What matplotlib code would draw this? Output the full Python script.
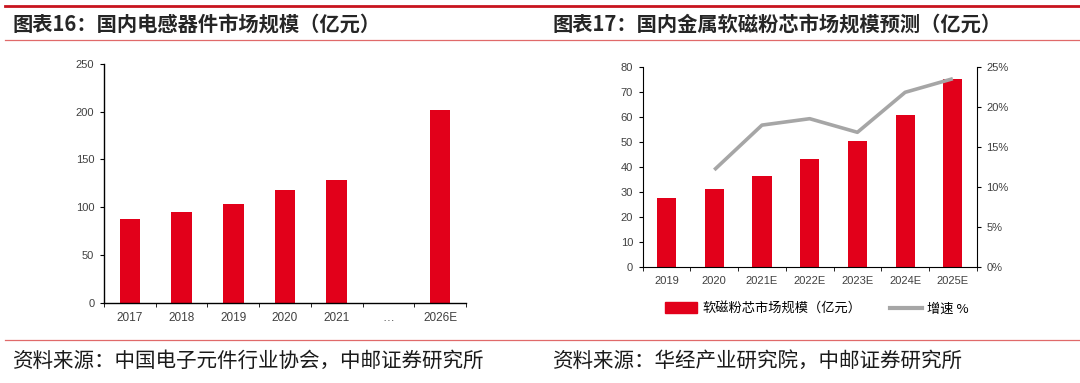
import matplotlib
matplotlib.use("Agg")
import matplotlib.pyplot as plt
from matplotlib.lines import Line2D
from matplotlib.patches import Patch
import numpy as np

plt.rcParams['font.family'] = ['Liberation Sans', 'Noto Sans CJK SC', 'DejaVu Sans']

# Left chart data
left_categories = ['2017', '2018', '2019', '2020', '2021', '…', '2026E']
left_values = [88, 95, 103, 118, 129, None, 202]

# Right chart data
right_categories = ['2019', '2020', '2021E', '2022E', '2023E', '2024E', '2025E']
right_values = [27.3, 31, 36.1, 43, 50.1, 60.8, 75]
growth_pct = [None, 12.1, 17.7, 18.5, 16.8, 21.8, 23.5]

left_title = '图表16：国内电感器件市场规模（亿元）'
right_title = '图表17：国内金属软磁粉芯市场规模预测（亿元）'
left_source = '资料来源：中国电子元件行业协会，中邮证券研究所'
right_source = '资料来源：华经产业研究院，中邮证券研究所'
bar_label = '软磁粉芯市场规模（亿元）'
line_label = '增速 %'

W, H = 1080, 383
BAR = '#E2001A'
LINE = '#A6A6A6'
TICK = '#404040'
CJK = ['Noto Sans CJK SC', 'DejaVu Sans']

fig = plt.figure(figsize=(W / 100, H / 100), dpi=100)

def fx(px):
    return px / W

def fy(py):
    return 1 - py / H

# Decorative rules
fig.add_artist(Line2D([fx(5), 1], [fy(6), fy(6)], color='#C8141E', lw=2.0))
fig.add_artist(Line2D([fx(5), 1], [fy(39.5), fy(39.5)], color='#E06A6A', lw=0.9))
fig.add_artist(Line2D([fx(5), 1], [fy(340), fy(340)], color='#E06A6A', lw=0.9))

# Titles
fig.text(fx(13), fy(24), left_title, family=CJK, fontsize=14.6, fontweight='bold',
         color='#262626', va='center', ha='left')
fig.text(fx(553), fy(24), right_title, family=CJK, fontsize=14.6, fontweight='bold',
         color='#262626', va='center', ha='left')
# Sources
fig.text(fx(13), fy(361), left_source, family=CJK, fontsize=14.8, fontweight='light',
         color='#1a1a1a', va='center', ha='left')
fig.text(fx(553), fy(361), right_source, family=CJK, fontsize=14.8, fontweight='light',
         color='#1a1a1a', va='center', ha='left')

# ---------- Left chart ----------
axL = fig.add_axes([fx(104), fy(302.7), fx(466 - 104), (302.7 - 64) / H])
xl = np.arange(len(left_categories))
lv = [v if v is not None else 0 for v in left_values]
bars = axL.bar(xl, lv, width=0.4, color=BAR)
for b, v in zip(bars, left_values):
    if v is None:
        b.set_visible(False)
axL.set_xlim(-0.5, len(left_categories) - 0.5)
axL.set_ylim(0, 250)
axL.set_yticks([0, 50, 100, 150, 200, 250])
axL.set_xticks(xl)
axL.set_xticklabels(left_categories)
axL.set_xticks(np.arange(-0.5, len(left_categories), 1), minor=True)
axL.tick_params(axis='x', which='major', length=0, labelsize=8.5, colors=TICK, pad=7)
axL.tick_params(axis='x', which='minor', length=3, direction='out', color='black')
axL.tick_params(axis='y', length=3, labelsize=8, colors=TICK, pad=4)
axL.tick_params(axis='y', color='black')
for s in ['top', 'right']:
    axL.spines[s].set_visible(False)
for s in ['left', 'bottom']:
    axL.spines[s].set_color('black')
    axL.spines[s].set_linewidth(1.0)

# ---------- Right chart ----------
axR = fig.add_axes([fx(642.7), fy(266.7), fx(976.7 - 642.7), (266.7 - 66.7) / H])
xr = np.arange(len(right_categories))
axR.bar(xr, right_values, width=0.4, color=BAR, label=bar_label)
axR.set_xlim(-0.5, len(right_categories) - 0.5)
axR.set_ylim(0, 80)
axR.set_yticks(np.arange(0, 81, 10))
axR.set_xticks(xr)
axR.set_xticklabels(right_categories)
axR.set_xticks(np.arange(-0.5, len(right_categories), 1), minor=True)
axR.tick_params(axis='x', which='major', length=0, labelsize=8, colors=TICK, pad=7)
axR.tick_params(axis='x', which='minor', length=3, direction='out', color='black')
axR.tick_params(axis='y', length=3, labelsize=8, colors=TICK, pad=4)
axR.tick_params(axis='y', color='black')
for s in ['top', 'right']:
    axR.spines[s].set_visible(False)
for s in ['left', 'bottom']:
    axR.spines[s].set_color('black')

ax2 = axR.twinx()
gx = [x for x, g in zip(xr, growth_pct) if g is not None]
gy = [g / 100 for g in growth_pct if g is not None]
ax2.plot(gx, gy, color=LINE, lw=2.6, solid_capstyle='butt', label=line_label)
ax2.set_ylim(0, 0.25)
ax2.set_yticks([0, 0.05, 0.10, 0.15, 0.20, 0.25])
ax2.set_yticklabels(['0%', '5%', '10%', '15%', '20%', '25%'])
ax2.tick_params(axis='y', length=3, labelsize=8, colors=TICK, pad=4)
ax2.tick_params(axis='y', color='black')
for s in ['top', 'left', 'bottom']:
    ax2.spines[s].set_visible(False)
ax2.spines['right'].set_color('black')

handles = [Patch(color=BAR, label=bar_label), Line2D([0], [0], color=LINE, lw=3, label=line_label)]
fig.legend(handles=handles, loc='center', bbox_to_anchor=(fx(817), fy(309)), ncol=2,
           frameon=False, prop={'family': CJK, 'size': 9.5}, handlelength=2.4,
           handleheight=0.9, columnspacing=2.2, handletextpad=0.4)

fig.savefig('out.png', dpi=100)
